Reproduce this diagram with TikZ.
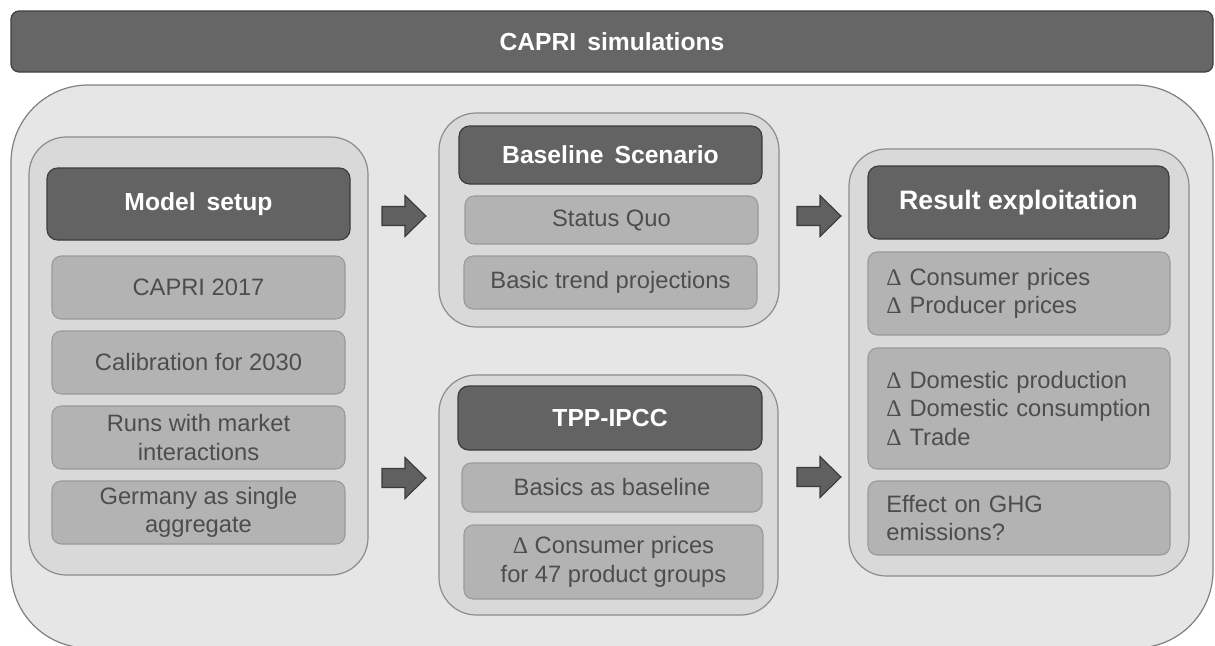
\documentclass[tikz,border=0pt]{standalone}
\usepackage{fontspec}
\setmainfont{Liberation Sans}
\newfontfamily\deltafont{Liberation Serif}
\newcommand\dlt{{\deltafont Δ}}
\definecolor{barfill}{HTML}{666666}
\definecolor{bardraw}{HTML}{404040}
\definecolor{outerfill}{HTML}{E6E6E6}
\definecolor{outerdraw}{HTML}{808080}
\definecolor{panelfill}{HTML}{D9D9D9}
\definecolor{paneldraw}{HTML}{8C8C8C}
\definecolor{headfill}{HTML}{636363}
\definecolor{headdraw}{HTML}{3C3C3C}
\definecolor{subfill}{HTML}{B3B3B3}
\definecolor{subdraw}{HTML}{9A9A9A}
\definecolor{subtext}{HTML}{4D4D4D}
\definecolor{arrfill}{HTML}{606060}
\definecolor{arrdraw}{HTML}{3A3A3A}
\tikzset{
  titlebar/.style={draw=bardraw, fill=barfill, line width=0.9pt, rounded corners=6pt,
    text=white, font=\fontsize{18.5}{22}\selectfont\bfseries, inner sep=0pt},
  outerbox/.style={draw=outerdraw, fill=outerfill, line width=0.9pt, rounded corners=58pt, inner sep=0pt},
  panelbox/.style={draw=paneldraw, fill=panelfill, line width=0.9pt, rounded corners=28pt, inner sep=0pt},
  headbox/.style={draw=headdraw, fill=headfill, line width=0.9pt, rounded corners=8pt,
    text=white, font=\fontsize{18.5}{22}\selectfont\bfseries, inner sep=0pt, align=center},
  subbox/.style={draw=subdraw, fill=subfill, line width=0.8pt, rounded corners=7pt,
    text=subtext, font=\fontsize{17.8}{21.5}\selectfont, inner sep=0pt, align=center},
  sublbox/.style={subbox, align=left, text width=199pt, inner xsep=13.5pt},
  blockarrow/.style={draw=arrdraw, fill=arrfill, line width=0.8pt, line join=miter},
}
\newcommand\blkarrow[2]{\draw[blockarrow, shift={(#1,#2)}] (-22,-9.5) -- (1,-9.5) -- (1,-20.5) -- (22,0) -- (1,20.5) -- (1,9.5) -- (-22,9.5) -- cycle;}
\begin{document}
\begin{tikzpicture}[x=0.75pt,y=-0.75pt]
\useasboundingbox (0,0) rectangle (1215,646);
\fill[white] (0,0) rectangle (1215,646);
% title bar
\node[titlebar, minimum width=1202*0.75pt, minimum height=61*0.75pt] (title) at (612,41.5) {CAPRI\, simulations};
% outer container
\begin{scope}
\clip (0,0) rectangle (1215,646);
\node[outerbox, minimum width=1202*0.75pt, minimum height=563*0.75pt] (outer) at (612,366.5) {};
\end{scope}
% Model setup panel
\node[panelbox, minimum width=339*0.75pt, minimum height=438*0.75pt] (mpanel) at (198.5,356) {};
\node[headbox, minimum width=303*0.75pt, minimum height=72*0.75pt] (mhead) at (198.5,204) {Model\, setup};
\node[subbox, minimum width=293*0.75pt, minimum height=63*0.75pt] (m1) at (198.5,287.5) {CAPRI 2017};
\node[subbox, minimum width=293*0.75pt, minimum height=63*0.75pt] (m2) at (198.5,362.5) {Calibration for 2030};
\node[subbox, minimum width=293*0.75pt, minimum height=63*0.75pt] (m3) at (198.5,437.5) {Runs with market\\interactions};
\node[subbox, minimum width=293*0.75pt, minimum height=63*0.75pt] (m4) at (198.5,512.5) {Germany as single\\aggregate};
% Baseline panel
\node[panelbox, minimum width=340*0.75pt, minimum height=214*0.75pt] (bpanel) at (609,220) {};
\node[headbox, minimum width=303*0.75pt, minimum height=58*0.75pt] (bhead) at (610.5,155) {Baseline\, Scenario};
\node[subbox, minimum width=293*0.75pt, minimum height=48*0.75pt] (b1) at (611.5,220) {Status Quo};
\node[subbox, minimum width=293*0.75pt, minimum height=53*0.75pt] (b2) at (610.5,282.5) {Basic trend projections};
% TPP panel
\node[panelbox, minimum width=339*0.75pt, minimum height=240*0.75pt] (tpanel) at (608.5,495) {};
\node[headbox, minimum width=304*0.75pt, minimum height=64*0.75pt] (thead) at (610,418) {TPP-IPCC};
\node[subbox, minimum width=300*0.75pt, minimum height=49*0.75pt] (t1) at (612,487.5) {Basics as baseline};
\node[subbox, minimum width=299*0.75pt, minimum height=74*0.75pt] (t2) at (613.5,562) {\dlt\ Consumer prices\\for 47 product groups};
% Result panel
\node[panelbox, minimum width=340*0.75pt, minimum height=427*0.75pt] (rpanel) at (1019,362.5) {};
\node[headbox, font=\fontsize{20}{24}\selectfont\bfseries, minimum width=301*0.75pt, minimum height=73*0.75pt] (rhead) at (1018.5,202.5) {Result exploitation};
\node[sublbox, minimum width=302*0.75pt, minimum height=83*0.75pt] (r1) at (1019,293.5) {\dlt\ Consumer prices\\\dlt\ Producer prices};
\node[sublbox, minimum width=302*0.75pt, minimum height=121*0.75pt] (r2) at (1019,408.5) {\dlt\ Domestic production\\\dlt\ Domestic consumption\\\dlt\ Trade};
\node[sublbox, minimum width=302*0.75pt, minimum height=74*0.75pt] (r3) at (1019,518) {Effect on GHG\\emissions?};
% block arrows
\blkarrow{404}{216}
\blkarrow{404}{478}
\blkarrow{819}{216}
\blkarrow{819}{477}
\end{tikzpicture}
\end{document}
